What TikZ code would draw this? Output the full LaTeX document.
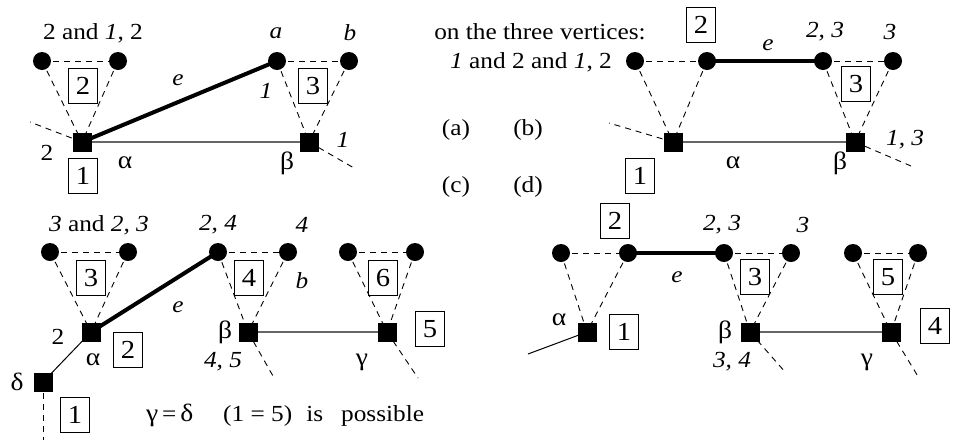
\documentclass[tikz,border=0pt]{standalone}
\usepackage{fontspec}
\setmainfont{Liberation Serif}[FakeStretch=1.1]
\usetikzlibrary{backgrounds}
\begin{document}
\begin{tikzpicture}[x=1pt,y=-1pt,
  every node/.style={inner sep=0pt, font=\fontsize{23}{26}\selectfont},
  greek/.style={font=\fontsize{25}{28}\selectfont},
  dot/.style={circle, fill=black, minimum size=18pt},
  sq/.style={rectangle, fill=black, minimum size=19pt},
  nbox/.style={draw, line width=0.9pt, minimum width=29pt, minimum height=35pt, font=\fontsize{26}{29}\selectfont},
  dsh/.style={line width=0.9pt, dash pattern=on 6pt off 5pt},
  thk/.style={line width=4pt},
  thn/.style={line width=1.3pt, black!60},
  thb/.style={line width=1pt, black}]
\useasboundingbox (0,0) rectangle (959,440);

% ---------------- panel (a)
\node[dot] (a1) at (42,61) {};
\node[dot] (a2) at (118,61) {};
\node[dot] (aa) at (277,61) {};
\node[dot] (ab) at (349,61) {};
\node[sq] (aal) at (82,142) {};
\node[sq] (abe) at (309,142) {};
\coordinate (afl) at (30,122);
\coordinate (afr) at (354,168);
\node[nbox] (ab2) at (83,86) {2};
\node[nbox] (ab3) at (313,86) {3};
\node[nbox] (ab1) at (83,176) {1};
\node (at1) at (93,33) {2 and \textit{1}, 2};
\node (ta) at (276,33) {\textit{a}};
\node (tb) at (350,33) {\textit{b}};
\node (te) at (178,80) {\textit{e}};
\node (ti1) at (266,91) {\textit{1}};
\node (t2) at (47,153) {2};
\node[greek] (tal) at (125,163) {α};
\node[greek] (tbe) at (287,163) {β};
\node (ti1b) at (343,140) {\textit{1}};
\begin{pgfonlayer}{background}
\draw[dsh] (a1.center) -- (a2.center);
\draw[dsh] (aa.center) -- (ab.center);
\draw[dsh] (a1.center) -- (aal.center);
\draw[dsh] (a2.center) -- (aal.center);
\draw[dsh] (aa.center) -- (abe.center);
\draw[dsh] (ab.center) -- (abe.center);
\draw[dsh] (aal.center) -- (afl);
\draw[dsh] (abe.center) -- (afr);
\draw[thn] (aal.center) -- (abe.center);
\draw[thk] (aal.center) -- (aa.center);
\end{pgfonlayer}

% ---------------- panel (b)
\node (ton) at (540,32) {on the three vertices:};
\node[anchor=east] (tand) at (612,62) {\textit{1} and 2 and \textit{1}, 2};
\node (pa) at (456,130) {(a)};
\node (pb) at (528,130) {(b)};
\node (pc) at (456,187) {(c)};
\node (pd) at (528,187) {(d)};
\node[dot] (b1) at (635,61) {};
\node[dot] (b2) at (707,61) {};
\node[dot] (b3) at (823,61) {};
\node[dot] (b4) at (893,61) {};
\node[sq] (bal) at (673,142) {};
\node[sq] (bbe) at (855,142) {};
\coordinate (bfl) at (609,123);
\coordinate (bfr) at (911,166);
\node[nbox] (bb2) at (701,25) {2};
\node[nbox] (bb3) at (856,84) {3};
\node[nbox] (bb1) at (640,176) {1};
\node (be) at (768,45) {\textit{e}};
\node (b23) at (825,32) {\textit{2, 3}};
\node (b3t) at (890,32) {\textit{3}};
\node[greek] (bta) at (733,163) {α};
\node[greek] (btb) at (840,163) {β};
\node[anchor=west] (b13) at (886,140) {\textit{1, 3}};
\begin{pgfonlayer}{background}
\draw[dsh] (b1.center) -- (b2.center);
\draw[dsh] (b3.center) -- (b4.center);
\draw[dsh] (b1.center) -- (bal.center);
\draw[dsh] (b2.center) -- (bal.center);
\draw[dsh] (b3.center) -- (bbe.center);
\draw[dsh] (b4.center) -- (bbe.center);
\draw[dsh] (bal.center) -- (bfl);
\draw[dsh] (bbe.center) -- (bfr);
\draw[thn] (bal.center) -- (bbe.center);
\draw[thk] (b2.center) -- (b3.center);
\end{pgfonlayer}

% ---------------- panel (c)
\node[dot] (c1) at (50,252) {};
\node[dot] (c2) at (128,252) {};
\node[dot] (c3) at (218,252) {};
\node[dot] (c4) at (288,252) {};
\node[dot] (c5) at (348,252) {};
\node[dot] (c6) at (415,252) {};
\node[sq] (cal) at (91,332) {};
\node[sq] (cbe) at (248,332) {};
\node[sq] (cga) at (387,332) {};
\node[sq] (cde) at (43,382) {};
\coordinate (cfb) at (273,376);
\coordinate (cfg) at (418,378);
\coordinate (cfd) at (43,440);
\node[nbox] (cb3) at (91,278) {3};
\node[nbox] (cb4) at (249,278) {4};
\node[nbox] (cb6) at (383,278) {6};
\node[nbox] (cb5) at (430,329) {5};
\node[nbox] (cb2) at (128,350) {2};
\node[nbox] (cb1) at (75,415) {1};
\node (ct1) at (99,225) {\textit{3} and \textit{2, 3}};
\node (ct24) at (218,225) {\textit{2, 4}};
\node (ct4) at (302,225) {\textit{4}};
\node (ctb) at (302,281) {\textit{b}};
\node (cte) at (178,307) {\textit{e}};
\node (ct2) at (58,337) {2};
\node[greek] (cta) at (93,360) {α};
\node[greek] (ctbe) at (225,332) {β};
\node (ct45) at (223,362) {\textit{4, 5}};
\node[greek] (ctg) at (362,362) {γ};
\node[greek] (ctd) at (17,382) {δ};
\node[anchor=west] (ceq) at (146,415) {{\fontsize{25}{28}\selectfont γ}\,=\,{\fontsize{25}{28}\selectfont δ}\hspace{30pt}(1\ =\ 5)\hspace{14pt}is\hspace{18pt}possible};
\begin{pgfonlayer}{background}
\draw[dsh] (c1.center) -- (c2.center);
\draw[dsh] (c3.center) -- (c4.center);
\draw[dsh] (c5.center) -- (c6.center);
\draw[dsh] (c1.center) -- (cal.center);
\draw[dsh] (c2.center) -- (cal.center);
\draw[dsh] (c3.center) -- (cbe.center);
\draw[dsh] (c4.center) -- (cbe.center);
\draw[dsh] (c5.center) -- (cga.center);
\draw[dsh] (c6.center) -- (cga.center);
\draw[dsh] (cbe.center) -- (cfb);
\draw[dsh] (cga.center) -- (cfg);
\draw[dsh] (cde.center) -- (cfd);
\draw[thn] (cbe.center) -- (cga.center);
\draw[thb] (cde.center) -- (cal.center);
\draw[thk] (cal.center) -- (c3.center);
\end{pgfonlayer}

% ---------------- panel (d)
\node[dot] (d1) at (561,253) {};
\node[dot] (d2) at (628,253) {};
\node[dot] (d3) at (724,253) {};
\node[dot] (d4) at (791,253) {};
\node[dot] (d5) at (853,253) {};
\node[dot] (d6) at (918,253) {};
\node[sq] (dal) at (587,332) {};
\node[sq] (dbe) at (750,332) {};
\node[sq] (dga) at (891,332) {};
\coordinate (dfa) at (528,354);
\coordinate (dfb) at (786,373);
\coordinate (dfg) at (919,378);
\node[nbox] (db2) at (615,221) {2};
\node[nbox] (db3) at (755,277) {3};
\node[nbox] (db5) at (888,277) {5};
\node[nbox] (db1) at (624,332) {1};
\node[nbox] (db4) at (935,326) {4};
\node (d23) at (722,225) {\textit{2, 3}};
\node (d3t) at (803,225) {\textit{3}};
\node (dte) at (677,277) {\textit{e}};
\node[greek] (dta) at (559,320) {α};
\node[greek] (dtb) at (725,332) {β};
\node (d34) at (732,362) {\textit{3, 4}};
\node[greek] (dtg) at (867,362) {γ};
\begin{pgfonlayer}{background}
\draw[dsh] (d1.center) -- (d2.center);
\draw[dsh] (d3.center) -- (d4.center);
\draw[dsh] (d5.center) -- (d6.center);
\draw[dsh] (d1.center) -- (dal.center);
\draw[dsh] (d2.center) -- (dal.center);
\draw[dsh] (d3.center) -- (dbe.center);
\draw[dsh] (d4.center) -- (dbe.center);
\draw[dsh] (d5.center) -- (dga.center);
\draw[dsh] (d6.center) -- (dga.center);
\draw[dsh] (dbe.center) -- (dfb);
\draw[dsh] (dga.center) -- (dfg);
\draw[thn] (dbe.center) -- (dga.center);
\draw[thb] (dal.center) -- (dfa);
\draw[thk] (d2.center) -- (d3.center);
\end{pgfonlayer}
\end{tikzpicture}
\end{document}
